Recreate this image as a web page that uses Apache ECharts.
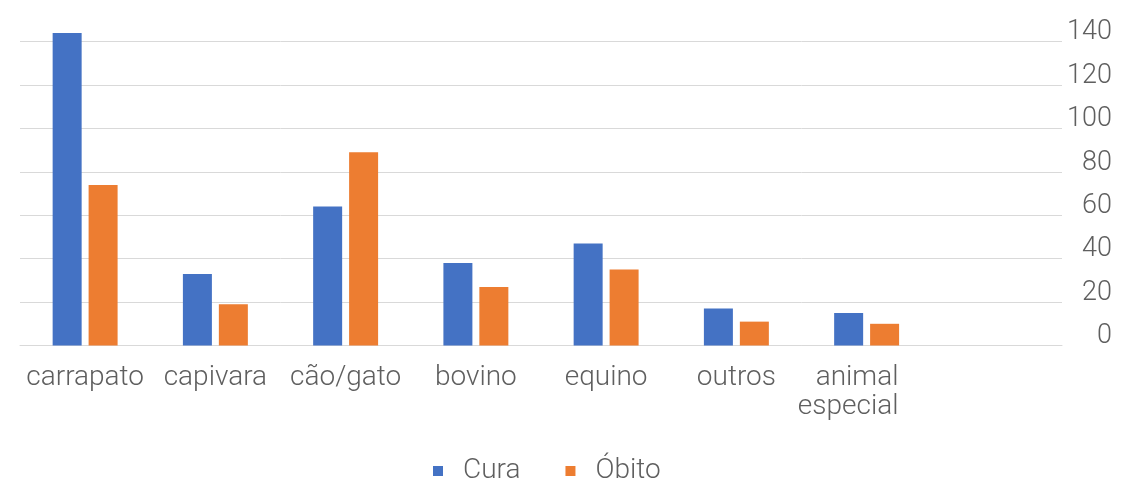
<!DOCTYPE html>
<html>
<head>
<meta charset="utf-8">
<script src="https://cdn.jsdelivr.net/npm/echarts@6/dist/echarts.min.js"></script>
<style>html,body{margin:0;padding:0;background:#fff}#c{width:1127px;height:480px}</style>
</head>
<body>
<div id="c"></div>
<script>
const categories = ['carrapato', 'capivara', 'cão/gato', 'bovino', 'equino', 'outros', 'animal especial', ''];
const cura = [144, 33, 64, 38, 47, 17, 15];
const obito = [74, 19, 89, 27, 35, 11, 10];
const seriesNames = ['Cura', 'Óbito'];

const chart = echarts.init(document.getElementById('c'), null, {renderer: 'canvas'});
const font = 'Roboto, "Liberation Sans", Arial, sans-serif';
const textColor = '#5f5f5f';
chart.setOption({
  animation: false,
  backgroundColor: '#ffffff',
  color: ['#4472C4', '#ED7D31'],
  grid: {left: 20, right: 65, top: 20, bottom: 134.5, containLabel: false},
  legend: {
    data: seriesNames,
    left: 428,
    top: 451,
    icon: 'rect',
    itemWidth: 10,
    itemHeight: 10,
    itemGap: 45,
    textStyle: {fontFamily: font, fontWeight: 300, fontSize: 28, color: textColor, padding: [0, 0, 0, 15], lineHeight: 30}
  },
  xAxis: {
    type: 'category',
    data: categories,
    axisLine: {show: true, lineStyle: {color: '#d9d9d9', width: 1}},
    axisTick: {show: false},
    axisLabel: {
      interval: 0,
      margin: 18,
      fontFamily: font,
      fontWeight: 300,
      fontSize: 28,
      lineHeight: 29,
      color: textColor,
      formatter: function (v) {
        if (v === 'animal especial') return '{r|animal}\n{r|especial}';
        return v;
      },
      rich: {
        r: {fontFamily: font, fontWeight: 300, fontSize: 28, lineHeight: 29, color: textColor, align: 'right', padding: [0, 37, 0, 0]}
      }
    }
  },
  yAxis: {
    type: 'value',
    position: 'right',
    min: 0,
    max: 150,
    interval: 20,
    axisLine: {show: false},
    axisTick: {show: false},
    splitLine: {show: true, showMaxLine: false, lineStyle: {color: '#d9d9d9', width: 1}},
    axisLabel: {
      showMaxLabel: false,
      align: 'right',
      verticalAlign: 'bottom',
      lineHeight: 18,
      margin: 50,
      fontFamily: font,
      fontWeight: 300,
      fontSize: 27,
      color: textColor
    }
  },
  series: [
    {name: seriesNames[0], type: 'bar', data: cura, barWidth: 29, barGap: '24%'},
    {name: seriesNames[1], type: 'bar', data: obito, barWidth: 29, barGap: '24%'}
  ]
});
</script>
</body>
</html>
